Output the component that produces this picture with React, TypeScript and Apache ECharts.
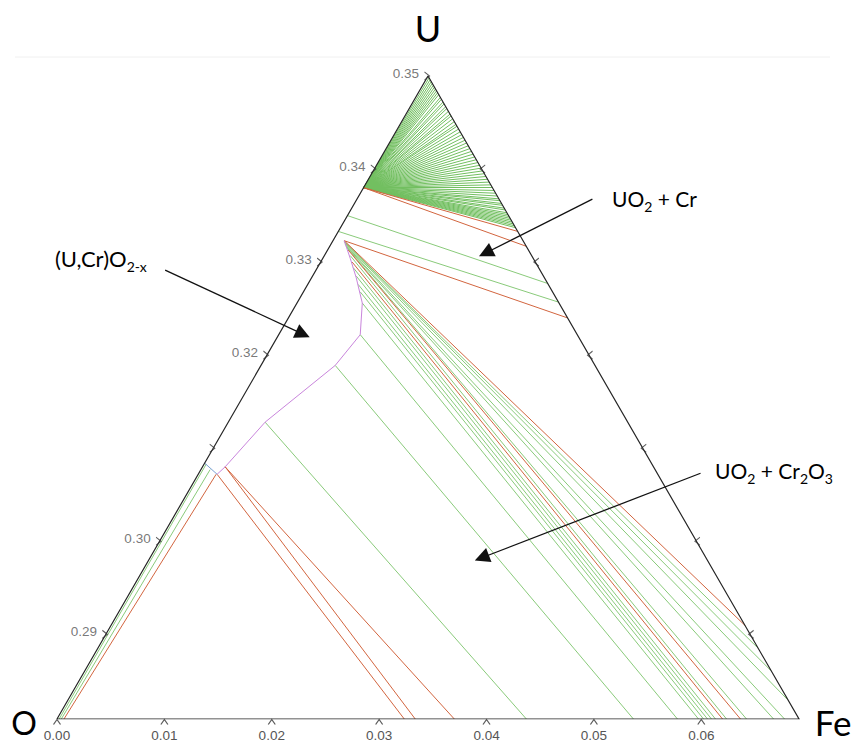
import React, { useEffect, useRef } from 'react';
import * as echarts from 'echarts';

// Sub-triangle extent (bottom axis = Fe scale, vertical = U scale)
const U_MIN = 0.2809;
const U_MAX = 0.35;
const X_MAX = 0.0691;

const bottomTicks = [0, 0.01, 0.02, 0.03, 0.04, 0.05, 0.06];
const leftTicks = [0.29, 0.30, 0.31, 0.32, 0.33, 0.34, 0.35];
const leftTickLabels = ['0.29', '0.30', '', '0.32', '0.33', '0.34', '0.35'];
const rightTicks = [0.29, 0.30, 0.31, 0.32, 0.33, 0.34];

// UO2 + Cr fan: common origin on the left edge, U values where tie lines reach the right edge
const fanOrigin: [number, number] = [0.02855, 0.338];
const fanRightU = [
  0.3498, 0.3496, 0.3494, 0.3492, 0.349, 0.3488, 0.3486, 0.3484, 0.3482, 0.348,
  0.3477, 0.3475, 0.3472, 0.347, 0.3467, 0.3465, 0.3462, 0.3459, 0.3457, 0.3454,
  0.3451, 0.3448, 0.3446, 0.3443, 0.344, 0.3437, 0.3434, 0.3431, 0.3428, 0.3425,
  0.3422, 0.3419, 0.3416, 0.3413, 0.341, 0.3407, 0.3404, 0.3401, 0.3398, 0.3395,
  0.3392, 0.3389, 0.3386, 0.3383, 0.338, 0.3377, 0.3374, 0.3371, 0.3368, 0.3366,
  0.3363, 0.3361, 0.3358, 0.3356, 0.3353, 0.3351, 0.3349, 0.3347, 0.3345, 0.3343,
  0.3341, 0.3339, 0.3337,
];

// green tie lines [x1, u1, x2, u2]
const greenTies: number[][] = [
  [0.02705, 0.335, 0.0457, 0.3277],
  [0.0262, 0.3333, 0.0467, 0.3257],
  [0.0139, 0.3083, 0.0002, 0.2809],
  [0.01426, 0.3077, 0.0004, 0.2809],
  [0.01938, 0.3128, 0.04371, 0.2809],
  [0.02591, 0.3189, 0.05368, 0.2809],
  [0.02824, 0.3222, 0.05778, 0.2809],
  [0.02843, 0.3256, 0.05974, 0.2809],
  [0.02824, 0.3268, 0.06021, 0.2809],
  [0.02805, 0.3276, 0.06058, 0.2809],
  [0.02787, 0.3285, 0.06095, 0.2809],
  [0.02759, 0.3294, 0.06132, 0.2809],
  [0.02731, 0.3307, 0.06235, 0.2809],
  [0.02703, 0.3315, 0.06421, 0.2809],
  [0.02693, 0.3317, 0.06673, 0.2809],
  [0.02684, 0.3319, 0.06775, 0.2809],
  [0.02684, 0.332, 0.0681, 0.2829],
  [0.02675, 0.3322, 0.06648, 0.2861],
  [0.02675, 0.3322, 0.0653, 0.2885],
];

// red (three-phase) lines [x1, u1, x2, u2]
const redTies: number[][] = [
  [0.02855, 0.338, 0.0429, 0.3333],
  [0.02855, 0.338, 0.0437, 0.3317],
  [0.02675, 0.3323, 0.04755, 0.324],
  [0.02675, 0.3323, 0.06412, 0.2909],
  [0.02749, 0.33, 0.06198, 0.2809],
  [0.02712, 0.3313, 0.06365, 0.2809],
  [0.01482, 0.3072, 0.00065, 0.2809],
  [0.01491, 0.3072, 0.03234, 0.2809],
  [0.01566, 0.308, 0.03336, 0.2809],
  [0.01566, 0.308, 0.037, 0.2809],
];

// (U,Cr)O2-x phase boundary
const purpleBoundary: number[][] = [
  [0.02675, 0.3323], [0.02731, 0.3304], [0.02787, 0.3283], [0.02843, 0.3256],
  [0.02824, 0.3222], [0.02591, 0.3189], [0.01938, 0.3128], [0.01566, 0.308],
  [0.01491, 0.3072],
];
const blueBoundary: number[][] = [[0.01375, 0.3084], [0.01491, 0.3072]];

// annotation arrows [x1, u1, x2, u2]
const arrows: number[][] = [
  [0.01007, 0.32914, 0.0229, 0.32226],
  [0.04986, 0.33677, 0.03992, 0.33098],
  [0.05993, 0.30731, 0.03956, 0.29823],
];

const leftX = (u: number) => (u - U_MIN) / 2;
const rightX = (u: number) => X_MAX - (u - U_MIN) / 2;

const GREEN = '#7cc46c';
const RED = '#d2653f';
const FONT = 'Lato, "Open Sans", sans-serif';
const TICK_FONT = '"Liberation Sans", Arial, sans-serif';

const seg = (a: number[]) => ({ coords: [[a[0], a[1]], [a[2], a[3]]] });

export default function App() {
  const ref = useRef<HTMLDivElement>(null);
  useEffect(() => {
    document.body.style.margin = '0';
    const chart = echarts.init(ref.current!, undefined, { renderer: 'svg' });
    const richMain = { fontSize: 21, fontFamily: FONT, color: '#111' };
    const richSub = { fontSize: 14, fontFamily: FONT, color: '#111', padding: [16, 0, 0, 0] };
    chart.setOption({
      animation: false,
      backgroundColor: '#fff',
      grid: { left: 57, right: 56, top: 76, bottom: 26 },
      xAxis: {
        type: 'value', min: 0, max: X_MAX, interval: 0.01,
        axisLine: { show: false }, axisTick: { show: false }, splitLine: { show: false },
        axisLabel: {
          margin: 9, fontSize: 13.5, color: '#555', fontFamily: TICK_FONT,
          formatter: (v: number) => (v > 0.065 ? '' : v.toFixed(2)),
        },
      },
      yAxis: { type: 'value', min: U_MIN, max: U_MAX, show: false },
      graphic: [
        { type: 'line', shape: { x1: 15, y1: 57, x2: 830, y2: 57 }, style: { stroke: '#f0f0f0', lineWidth: 1 } },
        { type: 'text', x: 428, y: 28, style: { text: 'U', fontSize: 36, fontFamily: FONT, fill: '#000', align: 'center', verticalAlign: 'middle' } },
        { type: 'text', x: 24, y: 722, style: { text: 'O', fontSize: 32, fontFamily: FONT, fill: '#000', align: 'center', verticalAlign: 'middle' } },
        { type: 'text', x: 833, y: 722, style: { text: 'Fe', fontSize: 35, fontFamily: FONT, fill: '#000', align: 'center', verticalAlign: 'middle' } },
        { type: 'text', x: 55, y: 258, style: { text: '{n|(U,Cr)O}{s|2-x}', rich: { n: { ...richMain, fontSize: 22 }, s: richSub }, verticalAlign: 'middle' } },
        { type: 'text', x: 612, y: 198, style: { text: '{n|UO}{s|2}{n| + Cr}', rich: { n: richMain, s: richSub }, verticalAlign: 'middle' } },
        { type: 'text', x: 715, y: 470, style: { text: '{n|UO}{s|2}{n| + Cr}{s|2}{n|O}{s|3}', rich: { n: richMain, s: richSub }, verticalAlign: 'middle' } },
      ],
      series: [
        {
          type: 'lines', coordinateSystem: 'cartesian2d', silent: true,
          lineStyle: { color: '#72bf60', width: 1, opacity: 1 },
          data: fanRightU.map((u) => ({ coords: [fanOrigin, [rightX(u), u]] })),
        },
        {
          type: 'lines', coordinateSystem: 'cartesian2d', silent: true,
          lineStyle: { color: GREEN, width: 1, opacity: 0.9 },
          data: greenTies.map(seg),
        },
        {
          type: 'lines', coordinateSystem: 'cartesian2d', silent: true,
          lineStyle: { color: RED, width: 1, opacity: 1 },
          data: redTies.map(seg),
        },
        {
          type: 'lines', coordinateSystem: 'cartesian2d', polyline: true, silent: true,
          lineStyle: { color: '#c985dc', width: 1, opacity: 1 },
          data: [{ coords: purpleBoundary }],
        },
        {
          type: 'lines', coordinateSystem: 'cartesian2d', polyline: true, silent: true,
          lineStyle: { color: '#7a9fd6', width: 1, opacity: 1 },
          data: [{ coords: blueBoundary }],
        },
        {
          type: 'lines', coordinateSystem: 'cartesian2d', polyline: true, silent: true,
          lineStyle: { color: '#262626', width: 1.2, opacity: 1 },
          data: [{ coords: [[0, U_MIN], [X_MAX, U_MIN], [X_MAX / 2, U_MAX], [0, U_MIN]] }],
        },
        {
          type: 'lines', coordinateSystem: 'cartesian2d', silent: true,
          symbol: ['none', 'triangle'], symbolSize: 15,
          lineStyle: { color: '#111', width: 1.3, opacity: 1 },
          itemStyle: { color: '#000' },
          data: arrows.map(seg),
        },
        {
          type: 'scatter', silent: true,
          symbol: 'path://M0,0 L5,4 L0,8', symbolSize: [5, 8], symbolOffset: [-1, 0],
          itemStyle: { color: 'transparent', borderColor: '#333', borderWidth: 1 },
          label: {
            show: true, position: 'left', distance: 5, offset: [0, -3],
            formatter: (p: any) => p.name, fontSize: 13.5, color: '#555', fontFamily: TICK_FONT,
          },
          data: leftTicks.map((u, i) => ({ name: leftTickLabels[i], value: [leftX(u), u] })),
        },
        {
          type: 'scatter', silent: true,
          symbol: 'path://M5,0 L0,4 L5,8', symbolSize: [5, 8], symbolOffset: [1, 0],
          itemStyle: { color: 'transparent', borderColor: '#333', borderWidth: 1 },
          data: rightTicks.map((u) => [rightX(u), u]),
        },
        {
          type: 'scatter', silent: true,
          symbol: 'path://M0,5 L4,0 L8,5', symbolSize: [7, 5], symbolOffset: [0, 3],
          itemStyle: { color: 'transparent', borderColor: '#333', borderWidth: 1 },
          data: bottomTicks.map((x) => [x, U_MIN]),
        },
      ],
    });
    return () => chart.dispose();
  }, []);
  return <div ref={ref} style={{ position: 'absolute', left: 0, top: 0, width: 855, height: 745 }} />;
}
